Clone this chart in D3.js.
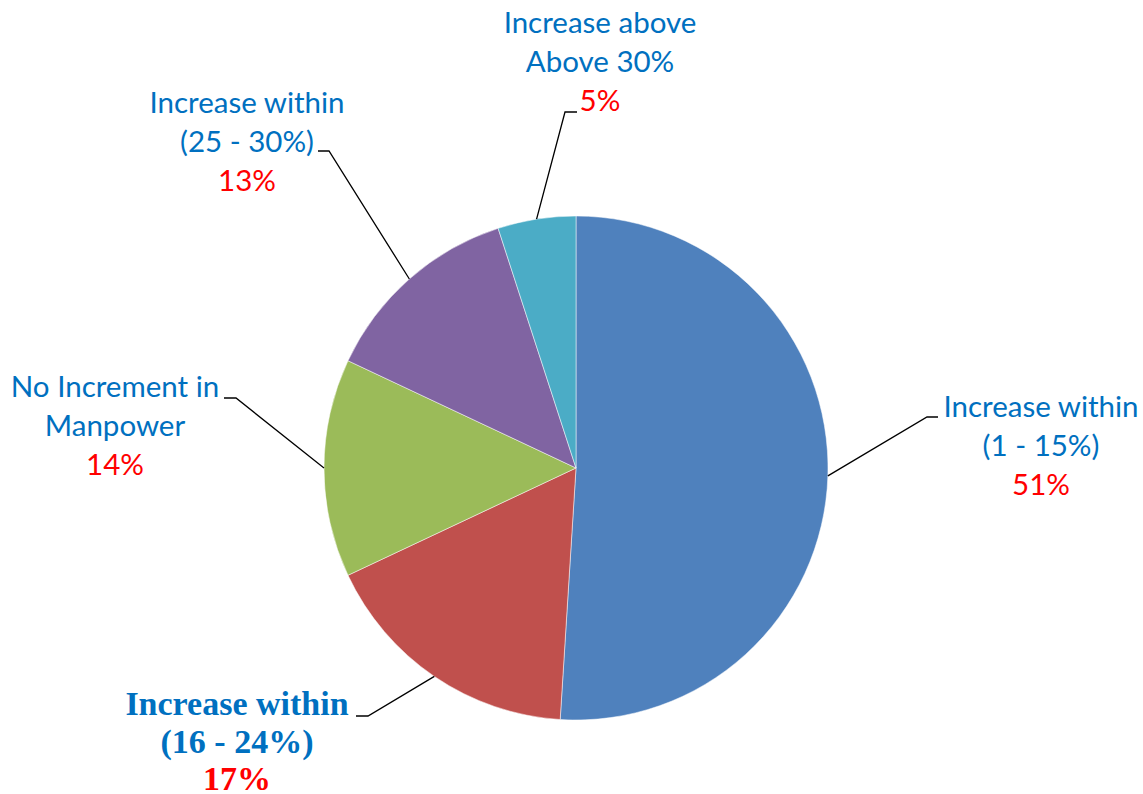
<!DOCTYPE html>
<html><head><meta charset="utf-8">
<script src="https://cdn.jsdelivr.net/npm/d3@7"></script>
<style>body{margin:0;background:#fff}svg{display:block}</style>
</head><body>
<svg id="c" width="1143" height="794"></svg>
<script>
const categories = [
  ["Increase within", "(1 - 15%)"],
  ["Increase within", "(16 - 24%)"],
  ["No Increment in", "Manpower"],
  ["Increase within", "(25 - 30%)"],
  ["Increase above", "Above 30%"]
];
const values = [51, 17, 14, 13, 5];
const valueLabels = ["51%", "17%", "14%", "13%", "5%"];
const colors = ["#4F81BD", "#C0504D", "#9BBB59", "#8064A2", "#4BACC6"];

// layout: label block centre x, first baseline y, line gap, elbow point, line end x
const layout = [
  {cx: 1041, y: 417, gap: 39, ex: 927, ey: 417, lx: 938, bold: false},
  {cx: 237,  y: 715, gap: 37.5, ex: 368, ey: 716, lx: 356, bold: true},
  {cx: 115,  y: 397, gap: 39, ex: 236, ey: 398, lx: 224, bold: false},
  {cx: 247,  y: 113, gap: 39, ex: 329, ey: 151, lx: 318, bold: false},
  {cx: 600,  y: 33,  gap: 39, ex: 565, ey: 112, lx: 577, bold: false}
];

const svg = d3.select("#c");
const cx = 576, cy = 468, r = 252;
const pie = d3.pie().sort(null).value(d => d)(values);
const arc = d3.arc().innerRadius(0).outerRadius(r);
const g = svg.append("g").attr("transform", `translate(${cx},${cy})`);
g.selectAll("path").data(pie).join("path")
  .attr("d", arc).attr("fill", (d, i) => colors[i])
  .attr("stroke", "#fff").attr("stroke-width", 0.5);

pie.forEach((d, i) => {
  const a = (d.startAngle + d.endAngle) / 2;
  const sx = cx + r * Math.sin(a), sy = cy - r * Math.cos(a);
  const L = layout[i];
  svg.append("polyline")
    .attr("points", `${sx},${sy} ${L.ex},${L.ey} ${L.lx},${L.ey}`)
    .attr("fill", "none").attr("stroke", "#000").attr("stroke-width", 1.3);
  const font = L.bold ? "'Liberation Serif', 'DejaVu Serif', serif" : "Lato, 'Open Sans', sans-serif";
  const fs = L.bold ? 34 : 29.5;
  const t = svg.append("text").attr("text-anchor", "middle")
    .attr("font-family", font).attr("font-size", fs)
    .attr("font-weight", L.bold ? "bold" : "normal");
  const lines = categories[i].concat([valueLabels[i]]);
  lines.forEach((s, j) => {
    t.append("tspan").attr("x", L.cx).attr("y", L.y + j * L.gap)
      .attr("fill", j === 2 ? "#FF0000" : "#0070C0").text(s);
  });
});
</script>
</body></html>
